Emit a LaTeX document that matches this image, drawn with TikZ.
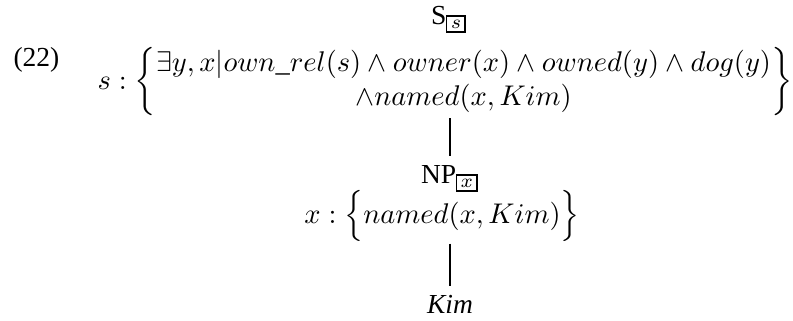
\documentclass[tikz,border=0pt]{standalone}
\usepackage[no-math]{fontspec}
\setmainfont{Liberation Serif}
\usepackage{amsmath}
\newcommand{\tagbox}[1]{{\setlength{\fboxsep}{1.2pt}\fbox{$\scriptstyle #1$}}}

\begin{document}
\begin{tikzpicture}[x=0.3636pt,y=0.3636pt,yscale=-1,xscale=1,
	cat/.style={anchor=base,inner sep=3pt},
	sem/.style={anchor=center,inner sep=0.5pt,scale=1.035}]
	\useasboundingbox (0,0) rectangle (793,320);
	\draw (13,66) node [anchor=base west,inner sep=0pt] (num) {(22)};
	\draw (449,24) node [cat] (S) {S$_{\tagbox{s}}$};
	\draw (445,82) node [sem] (Ssem) {$s:\biggl\{\begin{array}{@{}c@{}}\exists y,x|own\_rel(s)\land owner(x)\land owned(y)\land dog(y)\\ \land named(x,Kim)\end{array}\biggr\}$};
	\draw (450,183) node [cat] (NP) {NP$_{\tagbox{x}}$};
	\draw (442,216) node [sem] (NPsem) {$x:\Bigl\{named(x,Kim)\Bigr\}$};
	\draw (450,313) node [cat] (Kim) {\textit{Kim}};
	\draw (Ssem.south -| NP.north) -- (NP.north);
	\draw (NPsem.south -| Kim.north) -- (Kim.north);
\end{tikzpicture}
\end{document}
